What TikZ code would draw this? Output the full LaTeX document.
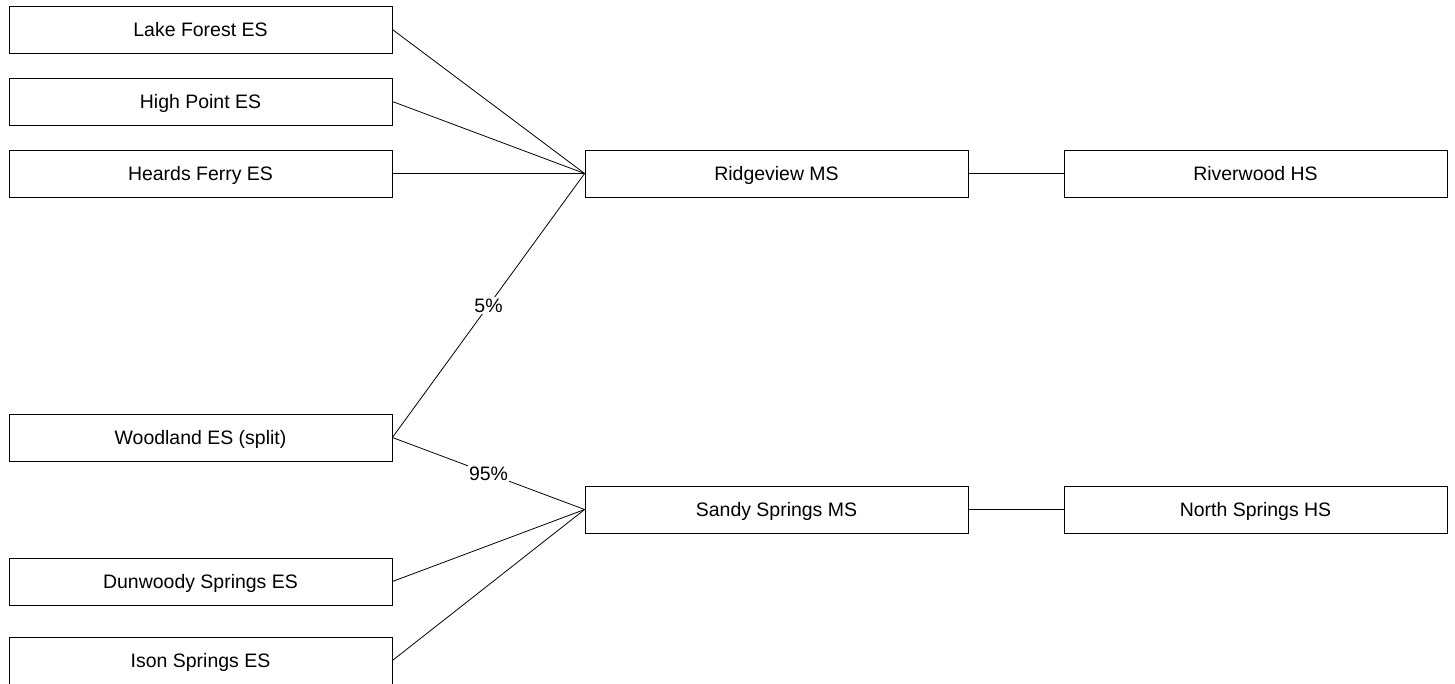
\documentclass[tikz,border=0pt]{standalone}
\usepackage{fontspec}
\setmainfont{Liberation Sans}
\usepackage{tikz}
\usetikzlibrary{positioning}

\begin{document}
\begin{tikzpicture}[
            x=0.75pt, y=-0.75pt,
            school/.style={rectangle, draw=black, fill=white, line width=0.6pt,
                        minimum width=287.25pt, minimum height=35.25pt, inner sep=0pt,
                        text height=11.4pt, text depth=1pt,
                        align=center, font=\fontsize{14.6}{16}\selectfont},
            link/.style={line width=0.6pt, black},
            share/.style={fill=white, inner sep=1pt, font=\fontsize{14.6}{16}\selectfont}
        ]
            \useasboundingbox (0,0) rectangle (1455,683);

            % Elementary schools
            \node[school] (lakeforest) at (200.5,29.5) {Lake Forest ES};
            \node[school] (highpoint) at (200.5,101.5) {High Point ES};
            \node[school] (heardsferry) at (200.5,173.5) {Heards Ferry ES};
            \node[school] (woodland) at (200.5,437.5) {Woodland ES (split)};
            \node[school] (dunwoody) at (200.5,581.5) {Dunwoody Springs ES};
            \node[school] (ison) at (200.5,660.5) {Ison Springs ES};

            % Middle schools
            \node[school] (ridgeview) at (776.5,173.5) {Ridgeview MS};
            \node[school] (sandysprings) at (776.5,509.5) {Sandy Springs MS};

            % High schools
            \node[school] (riverwood) at (1255.5,173.5) {Riverwood HS};
            \node[school] (northsprings) at (1255.5,509.5) {North Springs HS};

            % Feeder lines
            \draw[link] (lakeforest.east) -- (ridgeview.west);
            \draw[link] (highpoint.east) -- (ridgeview.west);
            \draw[link] (heardsferry.east) -- (ridgeview.west);
            \draw[link] (woodland.east) -- node[share] {5\%} (ridgeview.west);
            \draw[link] (woodland.east) -- node[share] {95\%} (sandysprings.west);
            \draw[link] (dunwoody.east) -- (sandysprings.west);
            \draw[link] (ison.east) -- (sandysprings.west);
            \draw[link] (ridgeview) -- (riverwood);
            \draw[link] (sandysprings) -- (northsprings);
        \end{tikzpicture}
\end{document}
